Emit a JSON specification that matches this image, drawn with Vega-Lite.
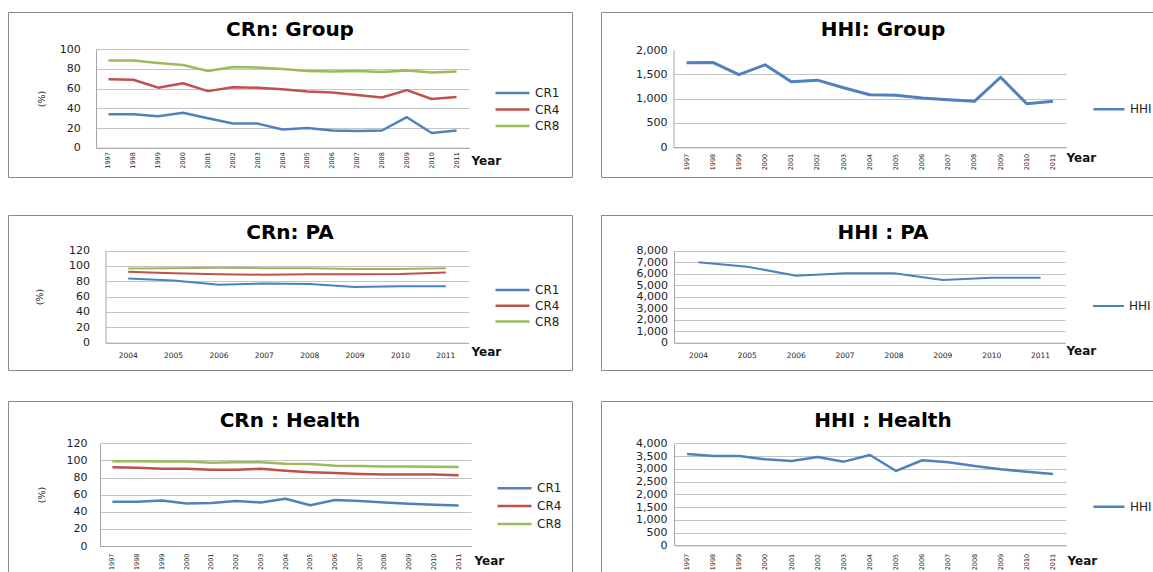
{
  "$schema": "https://vega.github.io/schema/vega-lite/v6.json",
  "background": "white",
  "padding": {"left": 7, "top": 11, "right": 0, "bottom": 0},
  "config": {
    "font": "DejaVu Sans",
    "view": {"stroke": "#8a8a8a", "strokeWidth": 1, "fill": "white"},
    "axis": {
      "ticks": false,
      "domainColor": "#a6a6a6",
      "gridColor": "#c4c4c4",
      "labelFont": "DejaVu Sans",
      "labelColor": "#222222",
      "labelFontSize": 11,
      "labelFlush": false,
      "labelOverlap": false,
      "labelBound": false,
      "titleFont": "DejaVu Sans",
      "titleColor": "#111111"
    },
    "axisX": {"grid": false, "titleFontWeight": "bold", "titleFontSize": 12, "titleAngle": 0, "titleAlign": "left", "titleBaseline": "middle"},
    "axisY": {"grid": true, "titleFontSize": 9.5, "titleFontWeight": "normal", "titleAngle": 270, "titleAlign": "center", "titleBaseline": "middle"},
    "title": {"font": "DejaVu Sans", "fontSize": 20, "fontWeight": "bold", "color": "#000000", "anchor": "middle", "frame": "group", "baseline": "middle"},
    "legend": {"symbolType": "stroke", "symbolStrokeWidth": 2.5, "clipHeight": 14, "labelFontSize": 12, "labelFont": "DejaVu Sans", "labelColor": "#222222", "labelOffset": 4, "padding": 0},
    "line": {"strokeJoin": "round"}
  },
  "datasets": {
    "crGroup": [
      {"Year": 1997, "Series": "CR1", "Value": 34}, {"Year": 1998, "Series": "CR1", "Value": 34}, {"Year": 1999, "Series": "CR1", "Value": 32},
      {"Year": 2000, "Series": "CR1", "Value": 35.5}, {"Year": 2001, "Series": "CR1", "Value": 30}, {"Year": 2002, "Series": "CR1", "Value": 24.5},
      {"Year": 2003, "Series": "CR1", "Value": 24.5}, {"Year": 2004, "Series": "CR1", "Value": 18.5}, {"Year": 2005, "Series": "CR1", "Value": 20},
      {"Year": 2006, "Series": "CR1", "Value": 17.5}, {"Year": 2007, "Series": "CR1", "Value": 17}, {"Year": 2008, "Series": "CR1", "Value": 17.5},
      {"Year": 2009, "Series": "CR1", "Value": 31}, {"Year": 2010, "Series": "CR1", "Value": 15}, {"Year": 2011, "Series": "CR1", "Value": 17.5},
      {"Year": 1997, "Series": "CR4", "Value": 69.5}, {"Year": 1998, "Series": "CR4", "Value": 69}, {"Year": 1999, "Series": "CR4", "Value": 61},
      {"Year": 2000, "Series": "CR4", "Value": 65.5}, {"Year": 2001, "Series": "CR4", "Value": 57.5}, {"Year": 2002, "Series": "CR4", "Value": 61.5},
      {"Year": 2003, "Series": "CR4", "Value": 61}, {"Year": 2004, "Series": "CR4", "Value": 59.5}, {"Year": 2005, "Series": "CR4", "Value": 57},
      {"Year": 2006, "Series": "CR4", "Value": 56}, {"Year": 2007, "Series": "CR4", "Value": 53.5}, {"Year": 2008, "Series": "CR4", "Value": 51},
      {"Year": 2009, "Series": "CR4", "Value": 58.5}, {"Year": 2010, "Series": "CR4", "Value": 49.5}, {"Year": 2011, "Series": "CR4", "Value": 51.5},
      {"Year": 1997, "Series": "CR8", "Value": 88.5}, {"Year": 1998, "Series": "CR8", "Value": 88.5}, {"Year": 1999, "Series": "CR8", "Value": 86},
      {"Year": 2000, "Series": "CR8", "Value": 84}, {"Year": 2001, "Series": "CR8", "Value": 78}, {"Year": 2002, "Series": "CR8", "Value": 82},
      {"Year": 2003, "Series": "CR8", "Value": 81.5}, {"Year": 2004, "Series": "CR8", "Value": 80}, {"Year": 2005, "Series": "CR8", "Value": 78},
      {"Year": 2006, "Series": "CR8", "Value": 77.5}, {"Year": 2007, "Series": "CR8", "Value": 78}, {"Year": 2008, "Series": "CR8", "Value": 77},
      {"Year": 2009, "Series": "CR8", "Value": 78.5}, {"Year": 2010, "Series": "CR8", "Value": 76.5}, {"Year": 2011, "Series": "CR8", "Value": 77.5}
    ],
    "hhiGroup": [
      {"Year": 1997, "Series": "HHI", "Value": 1740}, {"Year": 1998, "Series": "HHI", "Value": 1745}, {"Year": 1999, "Series": "HHI", "Value": 1495},
      {"Year": 2000, "Series": "HHI", "Value": 1695}, {"Year": 2001, "Series": "HHI", "Value": 1345}, {"Year": 2002, "Series": "HHI", "Value": 1380},
      {"Year": 2003, "Series": "HHI", "Value": 1225}, {"Year": 2004, "Series": "HHI", "Value": 1080}, {"Year": 2005, "Series": "HHI", "Value": 1070},
      {"Year": 2006, "Series": "HHI", "Value": 1015}, {"Year": 2007, "Series": "HHI", "Value": 975}, {"Year": 2008, "Series": "HHI", "Value": 945},
      {"Year": 2009, "Series": "HHI", "Value": 1440}, {"Year": 2010, "Series": "HHI", "Value": 895}, {"Year": 2011, "Series": "HHI", "Value": 945}
    ],
    "crPA": [
      {"Year": 2004, "Series": "CR1", "Value": 83.5}, {"Year": 2005, "Series": "CR1", "Value": 81}, {"Year": 2006, "Series": "CR1", "Value": 75.5},
      {"Year": 2007, "Series": "CR1", "Value": 77}, {"Year": 2008, "Series": "CR1", "Value": 76.5}, {"Year": 2009, "Series": "CR1", "Value": 72.5},
      {"Year": 2010, "Series": "CR1", "Value": 73.5}, {"Year": 2011, "Series": "CR1", "Value": 73.5},
      {"Year": 2004, "Series": "CR4", "Value": 92.5}, {"Year": 2005, "Series": "CR4", "Value": 90.5}, {"Year": 2006, "Series": "CR4", "Value": 89},
      {"Year": 2007, "Series": "CR4", "Value": 88.5}, {"Year": 2008, "Series": "CR4", "Value": 89}, {"Year": 2009, "Series": "CR4", "Value": 89},
      {"Year": 2010, "Series": "CR4", "Value": 89.5}, {"Year": 2011, "Series": "CR4", "Value": 91.5},
      {"Year": 2004, "Series": "CR8", "Value": 96.5}, {"Year": 2005, "Series": "CR8", "Value": 97}, {"Year": 2006, "Series": "CR8", "Value": 97.5},
      {"Year": 2007, "Series": "CR8", "Value": 97}, {"Year": 2008, "Series": "CR8", "Value": 97}, {"Year": 2009, "Series": "CR8", "Value": 96},
      {"Year": 2010, "Series": "CR8", "Value": 96}, {"Year": 2011, "Series": "CR8", "Value": 97}
    ],
    "hhiPA": [
      {"Year": 2004, "Series": "HHI", "Value": 6990}, {"Year": 2005, "Series": "HHI", "Value": 6610}, {"Year": 2006, "Series": "HHI", "Value": 5830},
      {"Year": 2007, "Series": "HHI", "Value": 6030}, {"Year": 2008, "Series": "HHI", "Value": 6030}, {"Year": 2009, "Series": "HHI", "Value": 5450},
      {"Year": 2010, "Series": "HHI", "Value": 5650}, {"Year": 2011, "Series": "HHI", "Value": 5650}
    ],
    "crHealth": [
      {"Year": 1997, "Series": "CR1", "Value": 51.8}, {"Year": 1998, "Series": "CR1", "Value": 51.8}, {"Year": 1999, "Series": "CR1", "Value": 53.2},
      {"Year": 2000, "Series": "CR1", "Value": 49.7}, {"Year": 2001, "Series": "CR1", "Value": 50.3}, {"Year": 2002, "Series": "CR1", "Value": 52.6},
      {"Year": 2003, "Series": "CR1", "Value": 50.8}, {"Year": 2004, "Series": "CR1", "Value": 55.3}, {"Year": 2005, "Series": "CR1", "Value": 47.7},
      {"Year": 2006, "Series": "CR1", "Value": 53.8}, {"Year": 2007, "Series": "CR1", "Value": 52.5}, {"Year": 2008, "Series": "CR1", "Value": 50.8},
      {"Year": 2009, "Series": "CR1", "Value": 49.5}, {"Year": 2010, "Series": "CR1", "Value": 48.3}, {"Year": 2011, "Series": "CR1", "Value": 47.3},
      {"Year": 1997, "Series": "CR4", "Value": 92}, {"Year": 1998, "Series": "CR4", "Value": 91.3}, {"Year": 1999, "Series": "CR4", "Value": 90.2},
      {"Year": 2000, "Series": "CR4", "Value": 90.2}, {"Year": 2001, "Series": "CR4", "Value": 89}, {"Year": 2002, "Series": "CR4", "Value": 89},
      {"Year": 2003, "Series": "CR4", "Value": 90.2}, {"Year": 2004, "Series": "CR4", "Value": 88}, {"Year": 2005, "Series": "CR4", "Value": 86.3},
      {"Year": 2006, "Series": "CR4", "Value": 85.2}, {"Year": 2007, "Series": "CR4", "Value": 84}, {"Year": 2008, "Series": "CR4", "Value": 83.4},
      {"Year": 2009, "Series": "CR4", "Value": 83.4}, {"Year": 2010, "Series": "CR4", "Value": 83.4}, {"Year": 2011, "Series": "CR4", "Value": 82.8},
      {"Year": 1997, "Series": "CR8", "Value": 99}, {"Year": 1998, "Series": "CR8", "Value": 99}, {"Year": 1999, "Series": "CR8", "Value": 98.6},
      {"Year": 2000, "Series": "CR8", "Value": 98.6}, {"Year": 2001, "Series": "CR8", "Value": 97.2}, {"Year": 2002, "Series": "CR8", "Value": 97.8},
      {"Year": 2003, "Series": "CR8", "Value": 97.8}, {"Year": 2004, "Series": "CR8", "Value": 96}, {"Year": 2005, "Series": "CR8", "Value": 95.8},
      {"Year": 2006, "Series": "CR8", "Value": 93.8}, {"Year": 2007, "Series": "CR8", "Value": 93.6}, {"Year": 2008, "Series": "CR8", "Value": 93},
      {"Year": 2009, "Series": "CR8", "Value": 93}, {"Year": 2010, "Series": "CR8", "Value": 92.6}, {"Year": 2011, "Series": "CR8", "Value": 92.2}
    ],
    "hhiHealth": [
      {"Year": 1997, "Series": "HHI", "Value": 3580}, {"Year": 1998, "Series": "HHI", "Value": 3505}, {"Year": 1999, "Series": "HHI", "Value": 3500},
      {"Year": 2000, "Series": "HHI", "Value": 3370}, {"Year": 2001, "Series": "HHI", "Value": 3310}, {"Year": 2002, "Series": "HHI", "Value": 3460},
      {"Year": 2003, "Series": "HHI", "Value": 3280}, {"Year": 2004, "Series": "HHI", "Value": 3540}, {"Year": 2005, "Series": "HHI", "Value": 2915},
      {"Year": 2006, "Series": "HHI", "Value": 3335}, {"Year": 2007, "Series": "HHI", "Value": 3255}, {"Year": 2008, "Series": "HHI", "Value": 3110},
      {"Year": 2009, "Series": "HHI", "Value": 2985}, {"Year": 2010, "Series": "HHI", "Value": 2885}, {"Year": 2011, "Series": "HHI", "Value": 2795}
    ]
  },
  "vconcat": [
    {
      "hconcat": [
        {
          "width": 564, "height": 165,
          "title": {"text": "CRn: Group", "offset": -28},
          "data": {"name": "crGroup"},
          "mark": {"type": "line", "strokeWidth": 2.5},
          "encoding": {
            "x": {"field": "Year", "type": "ordinal",
              "scale": {"type": "band", "range": [88, 461], "paddingInner": 0, "paddingOuter": 0},
              "axis": {"offset": -29.3, "labelAngle": 270, "labelFontSize": 6.5, "labelPadding": 4, "title": "Year", "titleX": 463, "titleY": 13}},
            "y": {"field": "Value", "type": "quantitative",
              "scale": {"domain": [0, 100], "range": [135.7, 37.3], "nice": false, "zero": true},
              "axis": {"offset": -88, "values": [0, 20, 40, 60, 80, 100], "labelPadding": 15.7, "title": "(%)", "titleX": -55, "titleY": 86.5}},
            "color": {"field": "Series", "type": "nominal",
              "scale": {"domain": ["CR1", "CR4", "CR8"], "range": ["#4F81BD", "#C0504D", "#9BBB59"]},
              "legend": {"title": null, "orient": "none", "legendX": 486, "legendY": 74, "rowPadding": 2.5, "symbolSize": 1156}}
          }
        },
        {
          "width": 564, "height": 165,
          "title": {"text": "HHI: Group", "offset": -28},
          "data": {"name": "hhiGroup"},
          "mark": {"type": "line", "strokeWidth": 3},
          "encoding": {
            "x": {"field": "Year", "type": "ordinal",
              "scale": {"type": "band", "range": [72.5, 465], "paddingInner": 0, "paddingOuter": 0},
              "axis": {"offset": -29.7, "labelAngle": 270, "labelFontSize": 6.5, "labelPadding": 6, "title": "Year", "titleX": 465, "titleY": 9.7}},
            "y": {"field": "Value", "type": "quantitative",
              "scale": {"domain": [0, 2000], "range": [135.3, 38], "nice": false, "zero": true},
              "axis": {"offset": -72.5, "values": [0, 500, 1000, 1500, 2000], "format": ",.0f", "labelPadding": 6.5, "title": null,
                "gridOpacity": {"condition": {"test": "datum.value >= 2000", "value": 0}, "value": 1}}},
            "color": {"field": "Series", "type": "nominal",
              "scale": {"domain": ["HHI"], "range": ["#4F81BD"]},
              "legend": {"title": null, "orient": "none", "legendX": 491, "legendY": 90.3, "symbolSize": 961}}
          }
        }
      ],
      "spacing": 27,
      "resolve": {"scale": {"x": "independent", "y": "independent", "color": "independent"}, "legend": {"color": "independent"}}
    },
    {
      "vconcat": [
        {
          "hconcat": [
            {
              "width": 564, "height": 155,
              "title": {"text": "CRn: PA", "offset": -27.7},
              "data": {"name": "crPA"},
              "mark": {"type": "line", "strokeWidth": 2},
              "encoding": {
                "x": {"field": "Year", "type": "ordinal",
                  "scale": {"type": "band", "range": [97.5, 460.5], "paddingInner": 0, "paddingOuter": 0},
                  "axis": {"offset": -27.3, "labelAngle": 0, "labelFontSize": 7.5, "labelPadding": 9, "title": "Year", "titleX": 463, "titleY": 9}},
                "y": {"field": "Value", "type": "quantitative",
                  "scale": {"domain": [0, 120], "range": [127.7, 35.5], "nice": false, "zero": true},
                  "axis": {"offset": -97.5, "values": [0, 20, 40, 60, 80, 100, 120], "labelPadding": 16, "title": "(%)", "titleX": -66.5, "titleY": 81.6}},
                "color": {"field": "Series", "type": "nominal",
                  "scale": {"domain": ["CR1", "CR4", "CR8"], "range": ["#4F81BD", "#C0504D", "#9BBB59"]},
                  "legend": {"title": null, "orient": "none", "legendX": 486, "legendY": 68, "rowPadding": 1.8, "symbolSize": 1156}}
              }
            },
            {
              "width": 564, "height": 155,
              "title": {"text": "HHI : PA", "offset": -27.7},
              "data": {"name": "hhiPA"},
              "mark": {"type": "line", "strokeWidth": 2},
              "encoding": {
                "x": {"field": "Year", "type": "ordinal",
                  "scale": {"type": "band", "range": [73, 464], "paddingInner": 0, "paddingOuter": 0},
                  "axis": {"offset": -27.3, "labelAngle": 0, "labelFontSize": 7.5, "labelPadding": 9, "title": "Year", "titleX": 465, "titleY": 8}},
                "y": {"field": "Value", "type": "quantitative",
                  "scale": {"domain": [0, 8000], "range": [127.7, 35.7], "nice": false, "zero": true},
                  "axis": {"offset": -73, "values": [0, 1000, 2000, 3000, 4000, 5000, 6000, 7000, 8000], "format": ",.0f", "labelPadding": 6.5, "title": null}},
                "color": {"field": "Series", "type": "nominal",
                  "scale": {"domain": ["HHI"], "range": ["#4F81BD"]},
                  "legend": {"title": null, "orient": "none", "legendX": 491, "legendY": 84, "symbolSize": 961, "symbolStrokeWidth": 2}}
              }
            }
          ],
          "spacing": 27,
          "resolve": {"scale": {"x": "independent", "y": "independent", "color": "independent"}, "legend": {"color": "independent"}}
        },
        {
          "hconcat": [
            {
              "width": 564, "height": 175,
              "title": {"text": "CRn : Health", "offset": -30},
              "data": {"name": "crHealth"},
              "mark": {"type": "line", "strokeWidth": 2.5},
              "encoding": {
                "x": {"field": "Year", "type": "ordinal",
                  "scale": {"type": "band", "range": [92, 463], "paddingInner": 0, "paddingOuter": 0},
                  "axis": {"offset": -30, "labelAngle": 270, "labelFontSize": 6.5, "labelPadding": 7, "title": "Year", "titleX": 466, "titleY": 14.7}},
                "y": {"field": "Value", "type": "quantitative",
                  "scale": {"domain": [0, 120], "range": [145, 42.3], "nice": false, "zero": true},
                  "axis": {"offset": -92, "values": [0, 20, 40, 60, 80, 100, 120], "labelPadding": 13, "title": "(%)", "titleX": -59, "titleY": 93.6}},
                "color": {"field": "Series", "type": "nominal",
                  "scale": {"domain": ["CR1", "CR4", "CR8"], "range": ["#4F81BD", "#C0504D", "#9BBB59"]},
                  "legend": {"title": null, "orient": "none", "legendX": 488, "legendY": 80.3, "rowPadding": 3.8, "symbolSize": 1156}}
              }
            },
            {
              "width": 564, "height": 175,
              "title": {"text": "HHI : Health", "offset": -30},
              "data": {"name": "hhiHealth"},
              "mark": {"type": "line", "strokeWidth": 2.5},
              "encoding": {
                "x": {"field": "Year", "type": "ordinal",
                  "scale": {"type": "band", "range": [73, 465], "paddingInner": 0, "paddingOuter": 0},
                  "axis": {"offset": -30.7, "labelAngle": 270, "labelFontSize": 6.5, "labelPadding": 8, "title": "Year", "titleX": 466, "titleY": 15.4}},
                "y": {"field": "Value", "type": "quantitative",
                  "scale": {"domain": [0, 4000], "range": [144.3, 42.3], "nice": false, "zero": true},
                  "axis": {"offset": -73, "values": [0, 500, 1000, 1500, 2000, 2500, 3000, 3500, 4000], "format": ",.0f", "labelPadding": 7, "title": null}},
                "color": {"field": "Series", "type": "nominal",
                  "scale": {"domain": ["HHI"], "range": ["#4F81BD"]},
                  "legend": {"title": null, "orient": "none", "legendX": 491, "legendY": 98.7, "symbolSize": 961}}
              }
            }
          ],
          "spacing": 27,
          "resolve": {"scale": {"x": "independent", "y": "independent", "color": "independent"}, "legend": {"color": "independent"}}
        }
      ],
      "spacing": 29,
      "resolve": {"scale": {"x": "independent", "y": "independent", "color": "independent"}, "legend": {"color": "independent"}}
    }
  ],
  "spacing": 36,
  "resolve": {"scale": {"x": "independent", "y": "independent", "color": "independent"}, "legend": {"color": "independent"}}
}
